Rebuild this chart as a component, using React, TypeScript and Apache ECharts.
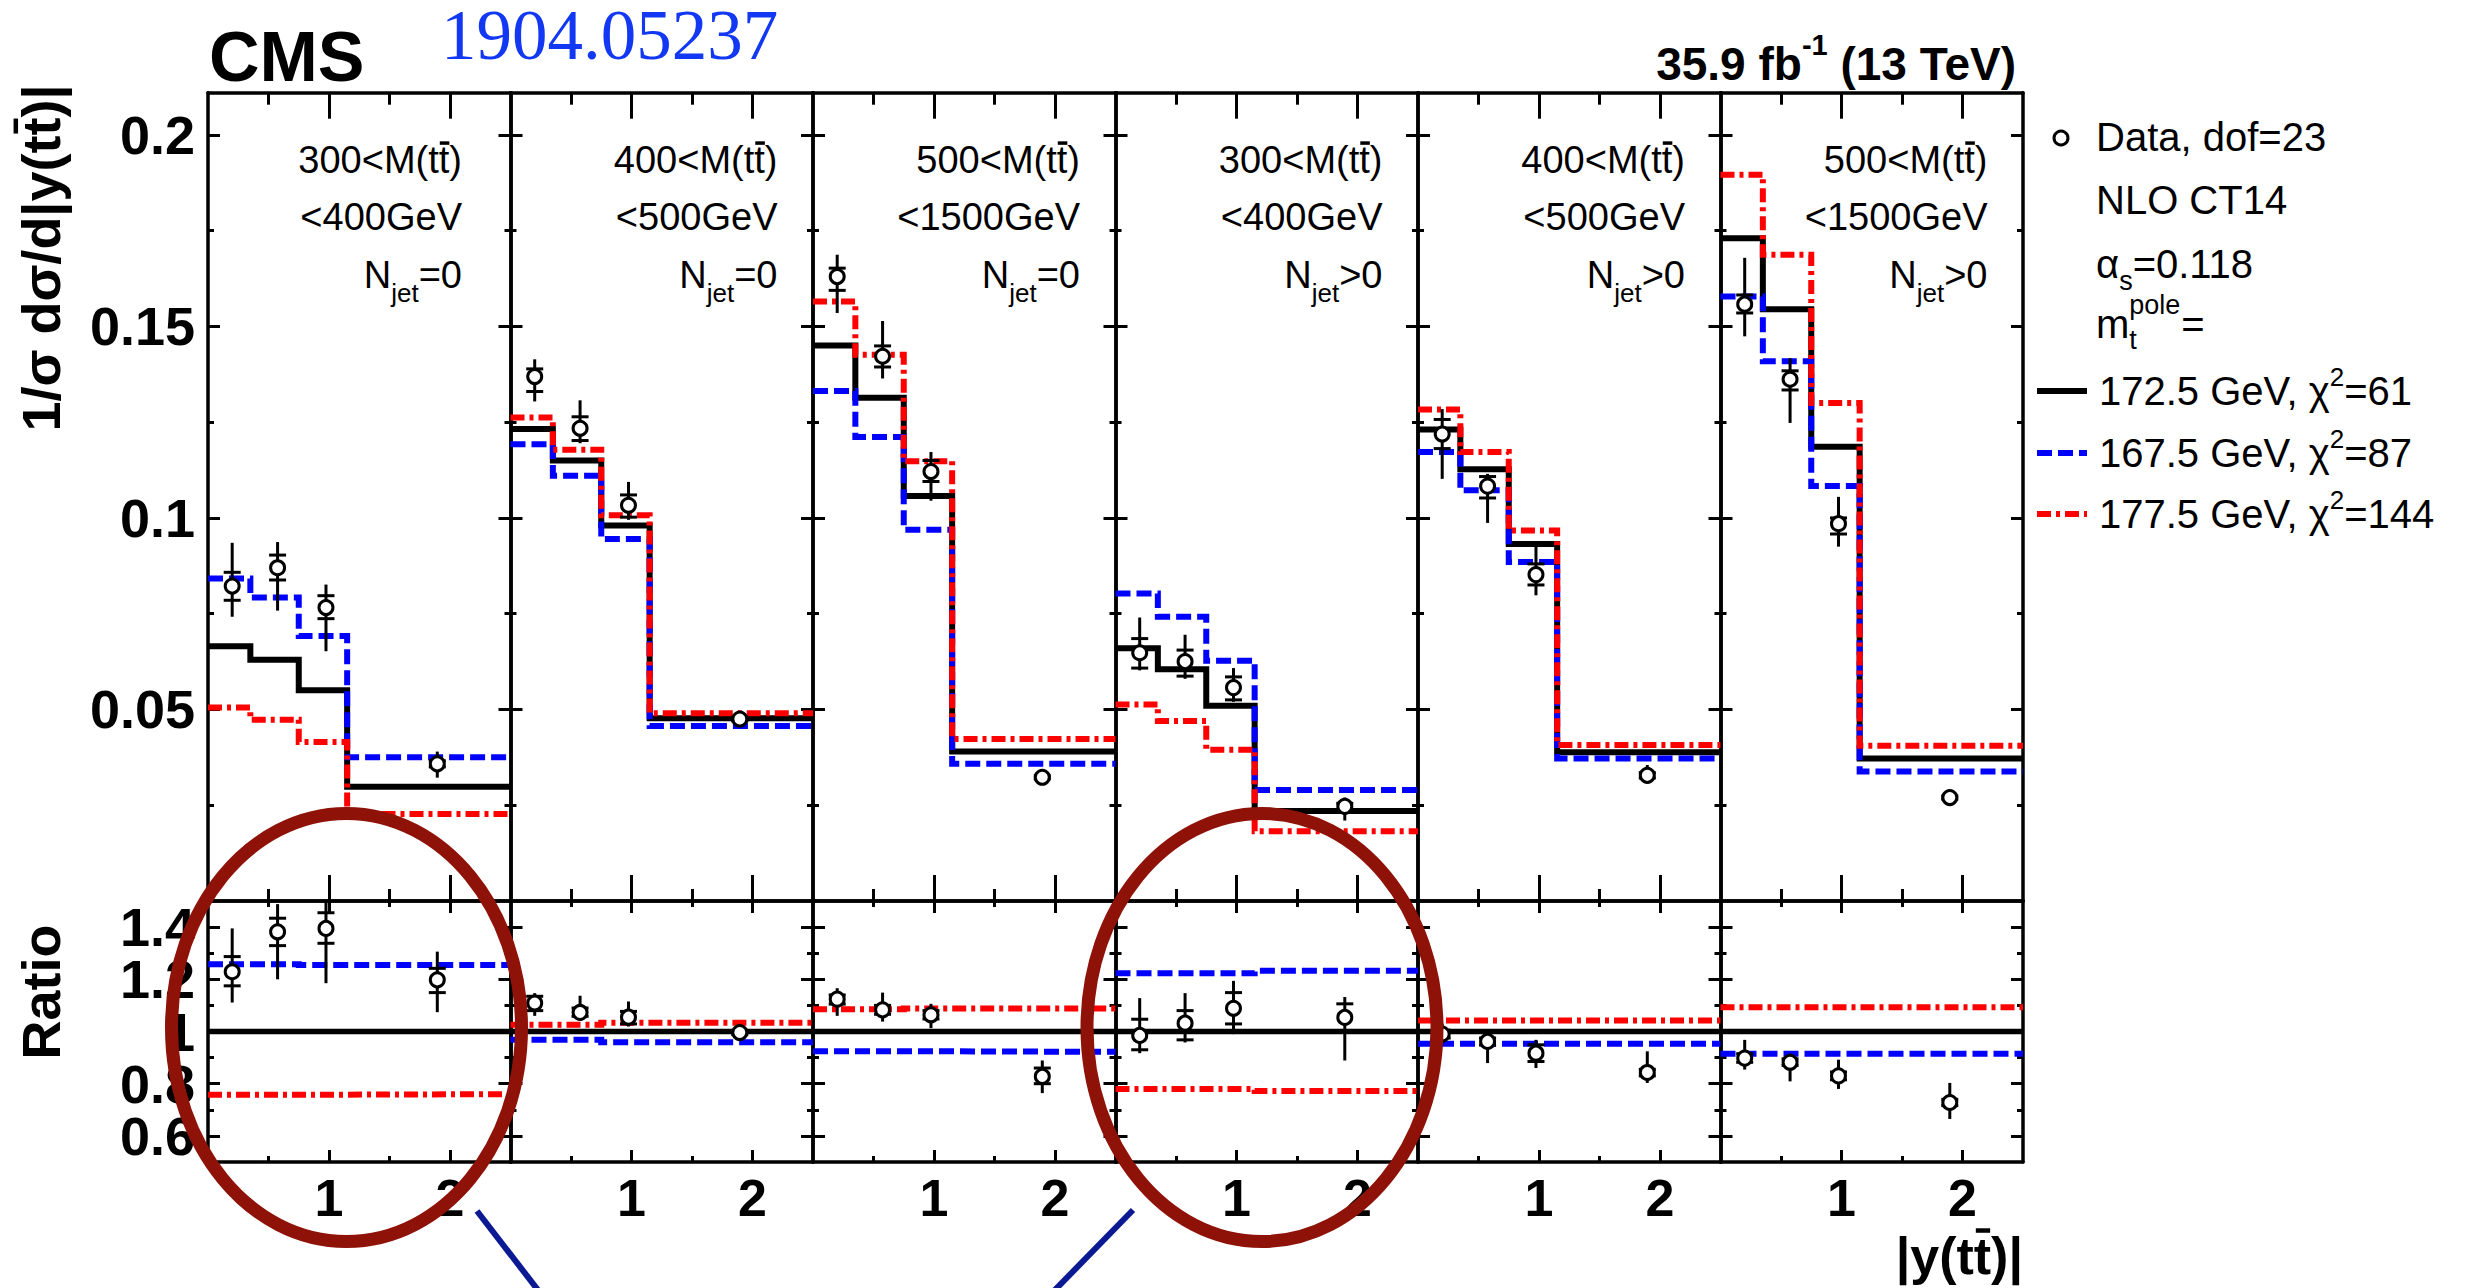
import React, { useEffect, useRef } from "react";
import * as echarts from "echarts";

const SANS = '"Liberation Sans", Arial, Helvetica, sans-serif';
const SERIF = '"Liberation Serif", "Times New Roman", serif';

// |y(tt)| binning and data-point abscissae
const binEdges = [0, 0.35, 0.75, 1.15, 2.5];
const pointX = [0.2, 0.575, 0.975, 1.895];

// Panel headings
const massLow = ["300", "400", "500", "300", "400", "500"];
const massHigh = ["<400GeV", "<500GeV", "<1500GeV", "<400GeV", "<500GeV", "<1500GeV"];
const njetCut = ["=0", "=0", "=0", ">0", ">0", ">0"];

// NLO CT14 predictions of 1/σ dσ/d|y(tt)| for three pole masses
const pred1725 = [
  [0.0665, 0.063, 0.055, 0.0298],
  [0.1232, 0.115, 0.098, 0.0477],
  [0.145, 0.1314, 0.1057, 0.039],
  [0.066, 0.0605, 0.051, 0.0235],
  [0.1231, 0.1127, 0.0932, 0.0388],
  [0.173, 0.1545, 0.1186, 0.0372],
];
const pred1675 = [
  [0.0842, 0.0792, 0.0692, 0.0375],
  [0.1192, 0.111, 0.0945, 0.0457],
  [0.1331, 0.1211, 0.0969, 0.0358],
  [0.0803, 0.0742, 0.0627, 0.029],
  [0.1172, 0.1072, 0.0885, 0.0372],
  [0.1578, 0.1409, 0.1083, 0.0338],
];
const pred1775 = [
  [0.0505, 0.0473, 0.0415, 0.0227],
  [0.1262, 0.1178, 0.1007, 0.049],
  [0.1565, 0.1426, 0.1148, 0.0423],
  [0.0513, 0.047, 0.0395, 0.0182],
  [0.1283, 0.1172, 0.0967, 0.0407],
  [0.1896, 0.1687, 0.13, 0.0405],
];

// Measured normalised cross sections: central value, total and statistical bounds
const dataVal = [
  [0.0822, 0.087, 0.0766, 0.0358],
  [0.1369, 0.1234, 0.1033, 0.0475],
  [0.163, 0.1422, 0.1121, 0.0323],
  [0.0648, 0.0625, 0.0557, 0.0247],
  [0.1219, 0.1083, 0.0852, 0.0328],
  [0.1558, 0.1362, 0.0985, 0.027],
];
const dataTotHi = [
  [0.0935, 0.0937, 0.0826, 0.039],
  [0.1414, 0.1307, 0.1094, 0.049],
  [0.1687, 0.1514, 0.1172, 0.0332],
  [0.074, 0.0695, 0.0608, 0.027],
  [0.1284, 0.1115, 0.0925, 0.0355],
  [0.1679, 0.1417, 0.1055, 0.0282],
];
const dataTotLo = [
  [0.0742, 0.0758, 0.0652, 0.0322],
  [0.1304, 0.1195, 0.0995, 0.0463],
  [0.1535, 0.1364, 0.1045, 0.0314],
  [0.0602, 0.058, 0.052, 0.021],
  [0.1102, 0.0987, 0.0798, 0.031],
  [0.1474, 0.1248, 0.0925, 0.0262],
];
const dataStatHi = [
  [0.0858, 0.0903, 0.0797, 0.0366],
  [0.1389, 0.1264, 0.106, 0.048],
  [0.1652, 0.1449, 0.115, 0.0327],
  [0.0685, 0.0655, 0.0585, 0.0255],
  [0.1257, 0.1108, 0.088, 0.0335],
  [0.1582, 0.1384, 0.1, 0.0274],
];
const dataStatLo = [
  [0.0785, 0.0838, 0.0737, 0.035],
  [0.133, 0.1202, 0.1002, 0.047],
  [0.1594, 0.1394, 0.1095, 0.0319],
  [0.0608, 0.0587, 0.0525, 0.0239],
  [0.1181, 0.1052, 0.0825, 0.0321],
  [0.1535, 0.1334, 0.0958, 0.0266],
];

// Ratios to the 172.5 GeV prediction
const unity = [1, 1, 1, 1];
const ratio1675 = [
  [1.258, 1.258, 1.255, 1.255],
  [0.968, 0.968, 0.959, 0.959],
  [0.924, 0.924, 0.924, 0.922],
  [1.223, 1.223, 1.223, 1.233],
  [0.953, 0.953, 0.953, 0.953],
  [0.915, 0.915, 0.915, 0.915],
];
const ratio1775 = [
  [0.758, 0.758, 0.758, 0.76],
  [1.026, 1.026, 1.034, 1.034],
  [1.085, 1.085, 1.088, 1.088],
  [0.78, 0.78, 0.78, 0.772],
  [1.042, 1.042, 1.042, 1.042],
  [1.093, 1.093, 1.093, 1.093],
];
const ratioData = [
  [1.229, 1.382, 1.395, 1.198],
  [1.109, 1.073, 1.055, 0.996],
  [1.124, 1.083, 1.064, 0.828],
  [0.985, 1.032, 1.089, 1.054],
  [0.99, 0.962, 0.917, 0.843],
  [0.898, 0.882, 0.83, 0.728],
];
const ratioTotHi = [
  [1.395, 1.488, 1.56, 1.306],
  [1.147, 1.137, 1.115, 1.014],
  [1.166, 1.149, 1.106, 0.889],
  [1.128, 1.147, 1.194, 1.132],
  [1.03, 1.0, 0.968, 0.924],
  [0.968, 0.915, 0.892, 0.803],
];
const ratioTotLo = [
  [1.111, 1.2, 1.185, 1.074],
  [1.06, 1.045, 1.019, 0.968],
  [1.06, 1.038, 1.013, 0.764],
  [0.917, 0.958, 0.99, 0.889],
  [0.955, 0.879, 0.86, 0.803],
  [0.854, 0.809, 0.78, 0.665],
];
const ratioStatHi = [
  [1.287, 1.434, 1.455, 1.242],
  [1.135, 1.09, 1.077, 1.004],
  [1.14, 1.1, 1.08, 0.86],
  [1.047, 1.08, 1.149, 1.106],
  [1.005, 0.975, 0.949, 0.855],
  [0.915, 0.895, 0.845, 0.74],
];
const ratioStatLo = [
  [1.175, 1.329, 1.338, 1.149],
  [1.08, 1.058, 1.029, 0.988],
  [1.105, 1.066, 1.048, 0.8],
  [0.93, 0.968, 1.029, 1.004],
  [0.975, 0.948, 0.885, 0.83],
  [0.882, 0.87, 0.815, 0.716],
];

// Legend entries
const legendMass = ["172.5 GeV, χ", "167.5 GeV, χ", "177.5 GeV, χ"];
const legendChi2 = ["=61", "=87", "=144"];

// Axis ticks and labels
const xMajorTicks = [1, 2];
const xMinorTicks = [0.5, 1.5];
const yMajorTicks = [0.05, 0.1, 0.15, 0.2];
const yMinorTicks = [0.025, 0.075, 0.125, 0.175];
const rMajorTicks = [0.6, 0.8, 1, 1.2, 1.4];
const rMinorTicks = [0.7, 0.9, 1.1, 1.3];
// ratio labels are split over two axes so that none of them gets dropped as overlapping
const rLabelsA = [0.6, 1, 1.4];
const rLabelsB = [0.8, 1.2];

// Layout (pixels)
const PANEL_LEFT = 208;
const PANEL_W = 302.5;
const TOP_Y = 92.7;
const SPLIT_Y = 901;
const BOTTOM_Y = 1162;
const Y_MAX = 0.211;

const BLACK = "#000000";
const BLUE = "#0000ff";
const RED = "#ff0000";
const BLUE_DASH = [15, 6];
const RED_DASH = [14, 5, 4, 5];

type TW = (s: string, size: number, weight?: string, family?: string) => number;

const panelLeft = (p: number) => PANEL_LEFT + p * PANEL_W;

function stepData(vals: number[]) {
  const pts = vals.map((v, i) => [binEdges[i], v]);
  pts.push([binEdges[binEdges.length - 1], vals[vals.length - 1]]);
  return pts;
}

function yLabel(values: number[]) {
  return {
    show: true,
    customValues: values,
    showMinLabel: true,
    showMaxLabel: true,
    hideOverlap: false,
    fontSize: 54,
    fontWeight: "bold",
    fontFamily: SANS,
    color: BLACK,
    margin: 13,
    formatter: (v: number) => String(Math.round(v * 1000) / 1000),
  };
}

function makeAxes(g: number, isRatio: boolean, xLabels: boolean, yLabels: boolean) {
  const xs: any[] = [];
  const ys: any[] = [];
  const frame = { show: true, onZero: false, lineStyle: { color: BLACK, width: 3.5 } };
  const noLine = { show: false, onZero: false };
  const none = { show: false };
  const tick = (len: number, vals: number[]) => ({
    show: true,
    inside: true,
    length: len,
    customValues: vals,
    lineStyle: { color: BLACK, width: 3 },
  });
  const xLong = isRatio ? 12 : 26;
  const xShort = isRatio ? 6 : 12;
  for (const pos of ["bottom", "top"]) {
    xs.push({
      type: "value",
      gridIndex: g,
      position: pos,
      min: 0,
      max: 2.5,
      axisLine: frame,
      axisTick: tick(xLong, xMajorTicks),
      splitLine: none,
      axisLabel:
        pos === "bottom" && xLabels
          ? {
              show: true,
              customValues: xMajorTicks,
              showMinLabel: true,
              showMaxLabel: true,
              fontSize: 52,
              fontWeight: "bold",
              fontFamily: SANS,
              color: BLACK,
              margin: 10,
              formatter: (v: number) => String(Math.round(v)),
            }
          : none,
    });
    xs.push({
      type: "value",
      gridIndex: g,
      position: pos,
      min: 0,
      max: 2.5,
      axisLine: noLine,
      axisTick: tick(xShort, xMinorTicks),
      splitLine: none,
      axisLabel: none,
    });
  }
  const yMin = isRatio ? 0.5 : 0;
  const yMax = isRatio ? 1.5 : Y_MAX;
  const major = isRatio ? rMajorTicks : yMajorTicks;
  const minor = isRatio ? rMinorTicks : yMinorTicks;
  for (const pos of ["left", "right"]) {
    const labelled = pos === "left" && yLabels;
    ys.push({
      type: "value",
      gridIndex: g,
      position: pos,
      min: yMin,
      max: yMax,
      axisLine: frame,
      axisTick: tick(12, major),
      splitLine: none,
      axisLabel: labelled ? yLabel(isRatio ? rLabelsA : yMajorTicks) : none,
    });
    ys.push({
      type: "value",
      gridIndex: g,
      position: pos,
      min: yMin,
      max: yMax,
      axisLine: noLine,
      axisTick: tick(6, minor),
      splitLine: none,
      axisLabel: labelled && isRatio ? yLabel(rLabelsB) : none,
    });
  }
  return { xs, ys };
}

function errorBarRender(params: any, api: any) {
  const x = api.value(0);
  const lo = api.coord([x, api.value(2)]);
  const hi = api.coord([x, api.value(3)]);
  const sLo = api.coord([x, api.value(4)]);
  const sHi = api.coord([x, api.value(5)]);
  const st = { stroke: BLACK, lineWidth: 3 };
  return {
    type: "group",
    children: [
      { type: "line", shape: { x1: lo[0], y1: lo[1], x2: hi[0], y2: hi[1] }, style: st },
      { type: "line", shape: { x1: sLo[0] - 8.5, y1: sLo[1], x2: sLo[0] + 8.5, y2: sLo[1] }, style: st },
      { type: "line", shape: { x1: sHi[0] - 8.5, y1: sHi[1], x2: sHi[0] + 8.5, y2: sHi[1] }, style: st },
    ],
  };
}

function panelSeries(
  g: number,
  nominal: number[],
  low: number[],
  high: number[],
  val: number[],
  totLo: number[],
  totHi: number[],
  statLo: number[],
  statHi: number[],
  nominalWidth: number
) {
  const ax = { xAxisIndex: 4 * g, yAxisIndex: 4 * g };
  const line = (vals: number[], color: string, width: number, type: any, z: number) => ({
    type: "line",
    ...ax,
    step: "end",
    data: stepData(vals),
    symbol: "none",
    showSymbol: false,
    silent: true,
    z,
    lineStyle: { color, width, type, cap: "butt", join: "miter" },
  });
  return [
    line(nominal, BLACK, nominalWidth, "solid", 2),
    line(low, BLUE, 6, BLUE_DASH, 3),
    line(high, RED, 6, RED_DASH, 4),
    {
      type: "custom",
      ...ax,
      clip: true,
      silent: true,
      z: 5,
      renderItem: errorBarRender,
      encode: { x: 0, y: 1 },
      data: val.map((v, i) => [pointX[i], v, totLo[i], totHi[i], statLo[i], statHi[i]]),
    },
    {
      type: "scatter",
      ...ax,
      silent: true,
      z: 6,
      symbol: "circle",
      symbolSize: 14,
      itemStyle: { color: "#ffffff", borderColor: BLACK, borderWidth: 3, opacity: 1 },
      data: val.map((v, i) => [pointX[i], v]),
    },
  ];
}

function text(
  x: number,
  y: number,
  s: string,
  size: number,
  opt: { weight?: string; family?: string; color?: string; align?: string; lineHeight?: number } = {}
) {
  const align = opt.align ?? "left";
  return {
    type: "text",
    x,
    y,
    z: 50,
    silent: true,
    style: {
      text: s,
      fontSize: size,
      fontFamily: opt.family ?? SANS,
      fontWeight: opt.weight ?? "normal",
      fill: opt.color ?? BLACK,
      align,
      textAlign: align,
      verticalAlign: "middle",
      textVerticalAlign: "middle",
      lineHeight: opt.lineHeight ?? Math.round(size * 0.9),
    },
  };
}

function bar(x: number, y: number, w: number, h: number) {
  return { type: "rect", z: 50, silent: true, shape: { x, y, width: w, height: h }, style: { fill: BLACK } };
}

function buildGraphics(tw: TW) {
  const g: any[] = [];

  // Headline texts
  g.push(text(209, 57, "CMS", 70, { weight: "bold", lineHeight: 56 }));
  g.push(text(441, 35, "1904.05237", 71, { family: SERIF, color: "#1238f4", lineHeight: 50 }));
  {
    const fsL = 46;
    const a = "35.9 fb";
    const sup = "-1";
    const b = " (13 TeV)";
    const wa = tw(a, fsL, "bold");
    const ws = tw(sup, 29, "bold");
    const wb = tw(b, fsL, "bold");
    const x0 = 2016 - (wa + ws + wb);
    g.push(text(x0, 64, a, fsL, { weight: "bold" }));
    g.push(text(x0 + wa, 45, sup, 29, { weight: "bold" }));
    g.push(text(x0 + wa + ws, 64, b, fsL, { weight: "bold" }));
  }

  // Panel headings
  const fs = 38;
  for (let p = 0; p < 6; p++) {
    const right = p === 0 ? 462 : panelLeft(p) + 267;
    const l1 = `${massLow[p]}<M(tt)`;
    g.push(text(right, 160, l1, fs, { align: "right" }));
    const tEnd = right - tw(")", fs);
    const tW = tw("t", fs);
    g.push(bar(tEnd - tW + 1, 160 - 0.36 * fs - 5, tW - 1, 3.5));
    g.push(text(right, 217, massHigh[p], fs, { align: "right" }));
    const wCut = tw(njetCut[p], fs);
    const wJet = tw("jet", 26);
    g.push(text(right, 275, njetCut[p], fs, { align: "right" }));
    g.push(text(right - wCut, 293, "jet", 26, { align: "right" }));
    g.push(text(right - wCut - wJet, 275, "N", fs, { align: "right" }));
  }

  // Legend
  const lx = 2096;
  const lfs = 40;
  const sfs = 27;
  g.push({
    type: "circle",
    z: 50,
    silent: true,
    shape: { cx: 2061, cy: 138, r: 7 },
    style: { fill: "#ffffff", stroke: BLACK, lineWidth: 3 },
  });
  g.push(text(lx, 137, "Data, dof=23", lfs));
  g.push(text(lx, 200, "NLO CT14", lfs));
  {
    const wa = tw("α", lfs);
    const ws = tw("s", sfs);
    g.push(text(lx, 264, "α", lfs));
    g.push(text(lx + wa, 281, "s", sfs));
    g.push(text(lx + wa + ws, 264, "=0.118", lfs));
  }
  {
    const wm = tw("m", lfs);
    const wp = tw("pole", sfs);
    g.push(text(lx, 324, "m", lfs));
    g.push(text(lx + wm, 340, "t", sfs));
    g.push(text(lx + wm, 305, "pole", sfs));
    g.push(text(lx + wm + wp + 1, 324, "=", lfs));
  }
  const rows = [391, 453, 514];
  const styles: [string, any][] = [
    [BLACK, "solid"],
    [BLUE, BLUE_DASH],
    [RED, RED_DASH],
  ];
  rows.forEach((y, i) => {
    g.push({
      type: "line",
      z: 50,
      silent: true,
      shape: { x1: 2037, y1: y, x2: 2087, y2: y },
      style: { stroke: styles[i][0], lineWidth: 6, lineDash: styles[i][1] === "solid" ? null : styles[i][1] },
    });
    const w1 = tw(legendMass[i], lfs);
    const w2 = tw("2", 26);
    g.push(text(2099, y, legendMass[i], lfs));
    g.push(text(2099 + w1, y - 14, "2", 26));
    g.push(text(2099 + w1 + w2, y, legendChi2[i], lfs));
  });

  // Axis titles
  {
    const fsT = 54;
    const title = "1/σ dσ/d|y(tt)|";
    const W = tw(title, fsT, "bold");
    const pre = tw("1/σ dσ/d|y(t", fsT, "bold");
    const tW = tw("t", fsT, "bold");
    g.push({
      type: "group",
      x: 41,
      y: 258,
      rotation: Math.PI / 2,
      z: 50,
      children: [
        text(0, 0, title, fsT, { weight: "bold", align: "center" }),
        bar(-W / 2 + pre + 2, -0.36 * fsT - 8, tW - 3, 4.5),
      ],
    });
    g.push({
      type: "group",
      x: 41,
      y: 992,
      rotation: Math.PI / 2,
      z: 50,
      children: [text(0, 0, "Ratio", fsT, { weight: "bold", align: "center" })],
    });
  }
  {
    const fsX = 52;
    const right = 2023;
    g.push(text(right, 1256, "|y(tt)|", fsX, { weight: "bold", align: "right" }));
    const tail = tw(")|", fsX, "bold");
    const tW = tw("t", fsX, "bold");
    g.push(bar(right - tail - tW + 2, 1256 - 0.36 * fsX - 9, tW - 3, 4.5));
  }

  // Highlight rings and pointer lines
  const ring = "#8e1208";
  for (const cx of [346.5, 1262]) {
    g.push({
      type: "ellipse",
      z: 100,
      silent: true,
      shape: { cx, cy: 1027.5, rx: 175, ry: 214 },
      style: { fill: "none", stroke: ring, lineWidth: 13 },
    });
  }
  const navy = "#0b1a92";
  g.push({
    type: "line",
    z: 100,
    silent: true,
    shape: { x1: 477, y1: 1211, x2: 541, y2: 1294 },
    style: { stroke: navy, lineWidth: 6 },
  });
  g.push({
    type: "line",
    z: 100,
    silent: true,
    shape: { x1: 1133, y1: 1210, x2: 1051, y2: 1294 },
    style: { stroke: navy, lineWidth: 6 },
  });
  return g;
}

function buildOption(tw: TW) {
  const grid: any[] = [];
  const xAxis: any[] = [];
  const yAxis: any[] = [];
  const series: any[] = [];
  for (let g = 0; g < 12; g++) {
    const p = g % 6;
    const isRatio = g >= 6;
    grid.push({
      left: panelLeft(p),
      top: isRatio ? SPLIT_Y : TOP_Y,
      width: PANEL_W,
      height: isRatio ? BOTTOM_Y - SPLIT_Y : SPLIT_Y - TOP_Y,
      containLabel: false,
      outerBoundsMode: "none",
      show: false,
    });
    const { xs, ys } = makeAxes(g, isRatio, isRatio, p === 0);
    xAxis.push(...xs);
    yAxis.push(...ys);
  }
  for (let p = 0; p < 6; p++) {
    series.push(
      ...panelSeries(
        p,
        pred1725[p],
        pred1675[p],
        pred1775[p],
        dataVal[p],
        dataTotLo[p],
        dataTotHi[p],
        dataStatLo[p],
        dataStatHi[p],
        6
      )
    );
    series.push(
      ...panelSeries(
        6 + p,
        unity,
        ratio1675[p],
        ratio1775[p],
        ratioData[p],
        ratioTotLo[p],
        ratioTotHi[p],
        ratioStatLo[p],
        ratioStatHi[p],
        5.5
      )
    );
  }
  return {
    animation: false,
    backgroundColor: "#ffffff",
    textStyle: { fontFamily: SANS },
    tooltip: { show: false },
    legend: { show: false },
    grid,
    xAxis,
    yAxis,
    series,
    graphic: { elements: buildGraphics(tw) },
  };
}

export default function App() {
  const ref = useRef<HTMLDivElement>(null);
  useEffect(() => {
    const el = ref.current;
    if (!el) return;
    const chart = echarts.init(el, null, { renderer: "svg" });
    const ctx = document.createElement("canvas").getContext("2d") as CanvasRenderingContext2D;
    const tw: TW = (s, size, weight = "normal", family = SANS) => {
      ctx.font = `${weight} ${size}px ${family}`;
      return ctx.measureText(s).width;
    };
    chart.setOption(buildOption(tw) as any);
    return () => chart.dispose();
  }, []);
  return (
    <div
      ref={ref}
      style={{ position: "absolute", left: 0, top: 0, width: 2470, height: 1288, background: "#ffffff" }}
    />
  );
}
